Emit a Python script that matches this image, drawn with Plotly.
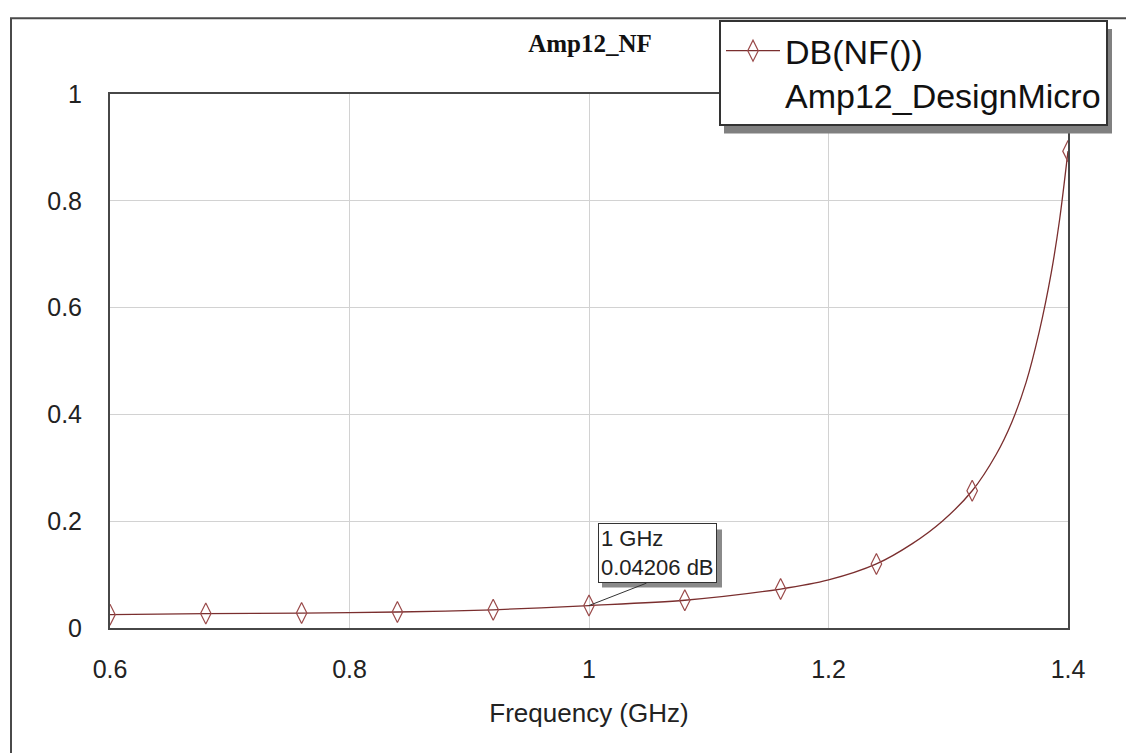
import plotly.graph_objects as go

# ---- data ----
freq_markers = [0.6, 0.68, 0.76, 0.84, 0.92, 1.0, 1.08, 1.16, 1.24, 1.32, 1.4]
nf_markers = [0.025, 0.027, 0.028, 0.030, 0.034, 0.04206, 0.052, 0.073, 0.12, 0.257, 0.893]

freq_curve = [0.6, 0.68, 0.76, 0.84, 0.92, 1.0, 1.08, 1.16, 1.2, 1.24, 1.27, 1.295, 1.32,
              1.34, 1.353, 1.365, 1.376, 1.386, 1.393, 1.4]
nf_curve = [0.025, 0.027, 0.028, 0.030, 0.034, 0.04206, 0.052, 0.073, 0.09, 0.12, 0.158, 0.2, 0.257,
            0.325, 0.385, 0.46, 0.555, 0.665, 0.765, 0.893]

x_ticks = [0.6, 0.8, 1.0, 1.2, 1.4]
x_ticklabels = ["0.6", "0.8", "1", "1.2", "1.4"]
y_ticks = [0, 0.2, 0.4, 0.6, 0.8, 1.0]
y_ticklabels = ["0", "0.2", "0.4", "0.6", "0.8", "1"]

marker_freq = 1.0
marker_val = 0.04206

LINE_COLOR = "#7a2e2e"
MARK_COLOR = "#9a4a4a"
SANS = "Liberation Sans, Arial, sans-serif"

# the page body has an 8px margin: figure coordinates = page coordinates - 8
OFF = 8
W, H = 1126, 745
# plot area in page pixels: left 110, right 1068, top 86, bottom 628
ML, MT = 110 - OFF, 86 - OFF
MR, MB = W - (1068 - OFF), H - (628 - OFF)
PW, PH = W - ML - MR, H - MT - MB


def px2paper_x(page_px):
    return (page_px - OFF - ML) / PW


def px2paper_y(page_py):
    return (H - MB - (page_py - OFF)) / PH


fig = go.Figure()

fig.add_trace(go.Scatter(
    x=freq_curve, y=nf_curve, mode="lines",
    line=dict(color=LINE_COLOR, width=1.3, shape="spline", smoothing=0.8),
    showlegend=False, hoverinfo="skip"))

fig.add_trace(go.Scatter(
    x=freq_markers, y=nf_markers, mode="markers",
    marker=dict(symbol="diamond-tall-open", size=15, color=MARK_COLOR,
                line=dict(width=1.2, color=MARK_COLOR)),
    showlegend=False))

# legend-only entry
fig.add_trace(go.Scatter(
    x=[None], y=[None], mode="lines+markers",
    name="DB(NF())<br>Amp12_DesignMicro",
    line=dict(color=LINE_COLOR, width=1.3),
    marker=dict(symbol="diamond-tall-open", size=15, color=MARK_COLOR,
                line=dict(width=1.2, color=MARK_COLOR))))

shapes = []
# outer window frame
shapes.append(dict(type="line", xref="paper", yref="paper",
                   x0=px2paper_x(1131), x1=px2paper_x(1131), y0=px2paper_y(770), y1=px2paper_y(8),
                   line=dict(color="#a8a8a8", width=2)))
shapes.append(dict(type="rect", xref="paper", yref="paper",
                   x0=px2paper_x(11), x1=px2paper_x(1128), y0=px2paper_y(770), y1=px2paper_y(9),
                   line=dict(color="#4a4a4a", width=2)))
# legend shadow
shapes.append(dict(type="rect", xref="paper", yref="paper",
                   x0=px2paper_x(724), x1=px2paper_x(1112), y0=px2paper_y(126), y1=px2paper_y(20),
                   line=dict(width=0), fillcolor="#808080"))
# marker annotation shadow
shapes.append(dict(type="rect", xref="paper", yref="paper",
                   x0=px2paper_x(602), x1=px2paper_x(722), y0=px2paper_y(587), y1=px2paper_y(528),
                   line=dict(width=0), fillcolor="#8a8a8a"))
# marker pointer line
shapes.append(dict(type="line", xref="x", yref="y",
                   x0=marker_freq, y0=marker_val, x1=1.048, y1=0.084,
                   line=dict(color="#333333", width=1)))

fig.update_layout(
    width=W, height=H,
    margin=dict(l=ML, r=MR, t=MT, b=MB, pad=0),
    paper_bgcolor="white", plot_bgcolor="white",
    font=dict(family=SANS, color="#222222"),
    title=dict(text="<b>Amp12_NF</b>", x=px2paper_x(590), xref="paper", xanchor="center",
               y=1 - (43 - OFF) / H, yref="container", yanchor="middle",
               font=dict(family="Liberation Serif, Times New Roman, serif", size=25, color="#111111")),
    xaxis=dict(range=[0.6, 1.4], tickvals=x_ticks, ticktext=x_ticklabels,
               showgrid=True, gridcolor="#d2d2d2", gridwidth=1,
               showline=True, linecolor="#474747", linewidth=2, mirror=True,
               ticks="", zeroline=False, tickfont=dict(size=25, color="#222222"),
               ticklabelstandoff=18,
               title=dict(text="Frequency (GHz)", font=dict(size=26, color="#222222"), standoff=22)),
    yaxis=dict(range=[0, 1], tickvals=y_ticks, ticktext=y_ticklabels,
               showgrid=True, gridcolor="#d2d2d2", gridwidth=1,
               showline=True, linecolor="#474747", linewidth=2, mirror=True,
               ticks="", zeroline=False, tickfont=dict(size=25, color="#222222"),
               ticklabelstandoff=21),
    legend=dict(x=px2paper_x(719), y=px2paper_y(11), xanchor="left", yanchor="top",
                bgcolor="white", bordercolor="#333333", borderwidth=2,
                font=dict(family=SANS, size=34, color="#111111"),
                valign="top", itemwidth=54, tracegroupgap=0),
    shapes=shapes,
    annotations=[dict(x=px2paper_x(598), y=px2paper_y(582), xref="paper", yref="paper",
                      xanchor="left", yanchor="bottom", showarrow=False, align="left",
                      text=f"{marker_freq:g} GHz<br>{marker_val} dB",
                      font=dict(family=SANS, size=22, color="#222222"),
                      bgcolor="white", bordercolor="#333333", borderwidth=1, borderpad=2)],
)

fig.write_html("out.html")
